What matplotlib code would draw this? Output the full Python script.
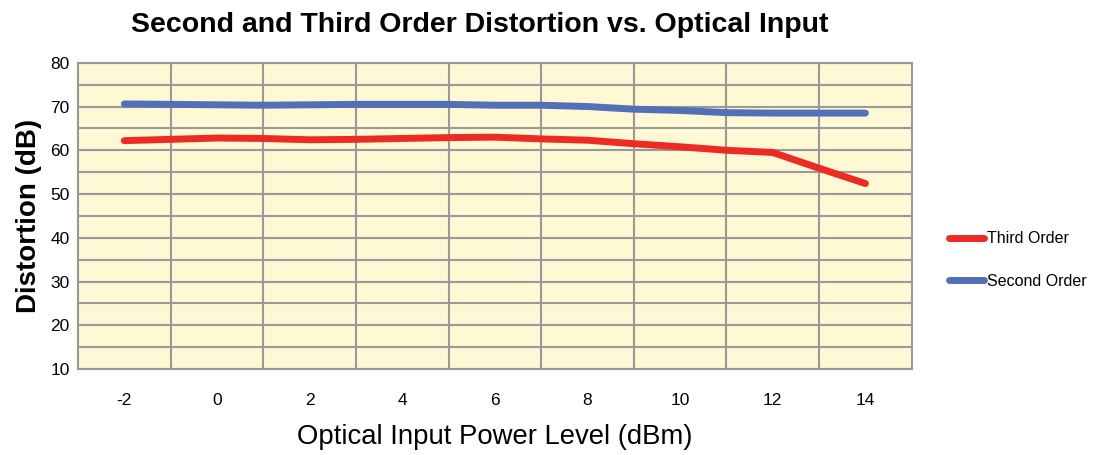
import numpy as np
import matplotlib.pyplot as plt

# optical input power (dBm)
power = [-2, -1, 0, 1, 2, 3, 4, 5, 6, 7, 8, 9, 10, 11, 12, 13, 14]
# distortion (dB)
second_order = [70.6, 70.5, 70.4, 70.3, 70.4, 70.5, 70.5, 70.5, 70.3, 70.3, 70.0,
                69.4, 69.1, 68.6, 68.5, 68.5, 68.5]
third_order = [62.2, 62.5, 62.8, 62.7, 62.4, 62.5, 62.7, 62.9, 63.0, 62.6, 62.3,
               61.5, 60.8, 60.0, 59.5, 55.9, 52.4]
x_ticks = [-2, 0, 2, 4, 6, 8, 10, 12, 14]
y_ticks = [10, 20, 30, 40, 50, 60, 70, 80]

plt.rcParams['font.family'] = ['Liberation Sans', 'DejaVu Sans']
plt.rcParams['axes.unicode_minus'] = False

fig = plt.figure(figsize=(10.97, 4.55), dpi=100)
ax = fig.add_axes([0.0711, 0.189, 0.76, 0.673])
ax.set_facecolor('#fff8d4')

grid_col = '#999999'
ax.plot(power, third_order, color='#ee2a24', lw=5, solid_capstyle='round',
        label='Third Order', zorder=3)
ax.plot(power, second_order, color='#5270b6', lw=5, solid_capstyle='round',
        label='Second Order', zorder=3)

ax.set_xlim(-3, 15)
ax.set_ylim(10, 80)
ax.set_xticks(x_ticks)
ax.set_xticks(np.arange(-1, 14, 2), minor=True)
ax.set_yticks(y_ticks)
ax.set_yticks(np.arange(15, 80, 10), minor=True)
ax.grid(which='minor', axis='x', color=grid_col, lw=1.5)
ax.grid(which='both', axis='y', color=grid_col, lw=1.5)
ax.tick_params(which='both', length=0)
ax.tick_params(axis='x', pad=17, labelsize=12.5)
ax.tick_params(axis='y', pad=6, labelsize=12.5)
for s in ax.spines.values():
    s.set_color(grid_col)
    s.set_linewidth(1.5)

ax.set_xlabel('Optical Input Power Level (dBm)', fontsize=19.8, labelpad=12)
ax.set_ylabel('Distortion (dB)', fontsize=20, fontweight='bold', labelpad=6)
fig.text(0.437, 0.945, 'Second and Third Order Distortion vs. Optical Input',
         ha='center', va='center', fontsize=20.5, fontweight='bold')

ax.legend(loc='center left', bbox_to_anchor=(1.027, 0.356), frameon=False,
          fontsize=11.5, handlelength=2.2, handletextpad=0.2, labelspacing=1.7)

fig.savefig('out.png', dpi=100)
